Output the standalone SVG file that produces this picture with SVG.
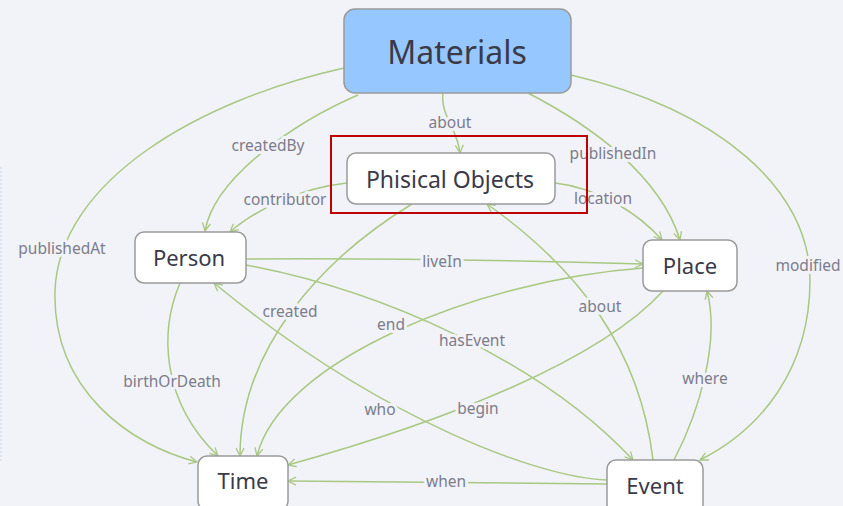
<svg xmlns="http://www.w3.org/2000/svg" width="843" height="506" viewBox="0 0 843 506">
<defs>
<style>
.e{fill:none;stroke:#a8c882;stroke-width:1.5;marker-end:url(#arr)}
.n{fill:#ffffff;stroke:#9a9a9a;stroke-width:1.5}
.nt{font-family:"Noto Sans","Open Sans",sans-serif;font-size:22px;fill:#3a3a48;text-anchor:middle;dominant-baseline:central}
.l{font-family:"Noto Sans","Open Sans",sans-serif;font-size:15.5px;fill:#7c7c8c;text-anchor:middle;dominant-baseline:central;stroke:#f2f3f8;stroke-width:6;paint-order:stroke;stroke-linejoin:round}
</style>
<marker id="arr" viewBox="0 0 10 10" refX="9" refY="5" markerWidth="10" markerHeight="10" markerUnits="userSpaceOnUse" orient="auto">
<path d="M1,1 L9,5 L1,9" fill="none" stroke="#a8c882" stroke-width="1.3"/>
</marker>
</defs>
<rect width="843" height="506" fill="#f2f3f8"/>
<line x1="1" y1="167" x2="1" y2="463" stroke="#cdd6e8" stroke-width="1" stroke-dasharray="2,2"/>
<g id="connectors">
<path class="e" d="M443,93 C440,115 458,130 460,153"/>
<path class="e" d="M358,95 C300,120 215,175 205,231"/>
<path class="e" d="M344,68 C200,100 60,180 55,290 C52,390 130,445 197,462"/>
<path class="e" d="M347,183 C300,188 255,210 230,232"/>
<path class="e" d="M555,183 C600,188 640,215 662,240"/>
<path class="e" d="M528,93 C590,125 660,175 680,240"/>
<path class="e" d="M571,75 C720,110 810,190 810,280 C810,370 760,430 700,460"/>
<path class="e" d="M246,259 Q445,258 643,264"/>
<path class="e" d="M246,265 C380,290 540,360 633,460"/>
<path class="e" d="M607,480 C540,478 380,420 214,283"/>
<path class="e" d="M180,283 C160,330 160,400 218,456"/>
<path class="e" d="M412,204 C320,260 240,350 240,456"/>
<path class="e" d="M643,268 C480,280 280,360 257,456"/>
<path class="e" d="M653,460 C640,350 580,270 487,204"/>
<path class="e" d="M674,460 C700,410 720,340 707,291"/>
<path class="e" d="M607,484 L288,481"/>
<path class="e" d="M663,291 C600,360 450,420 288,465"/>
<text class="l" x="450" y="122">about</text>
<text class="l" x="268" y="145">createdBy</text>
<text class="l" x="62" y="248">publishedAt</text>
<text class="l" x="285" y="199">contributor</text>
<text class="l" x="603" y="198">location</text>
<text class="l" x="613" y="153">publishedIn</text>
<text class="l" x="808" y="265">modified</text>
<text class="l" x="442" y="261">liveIn</text>
<text class="l" x="472" y="340">hasEvent</text>
<text class="l" x="380" y="409">who</text>
<text class="l" x="172" y="381">birthOrDeath</text>
<text class="l" x="290" y="311">created</text>
<text class="l" x="391" y="324">end</text>
<text class="l" x="600" y="306">about</text>
<text class="l" x="705" y="378">where</text>
<text class="l" x="446" y="481">when</text>
<text class="l" x="478" y="408">begin</text>
</g>
<g id="materials">
<rect x="344" y="9" width="227" height="84" rx="11" fill="#96c8ff" stroke="#9a9a9a" stroke-width="1.5"/>
<text class="nt" x="457" y="51" style="font-size:32px">Materials</text>
</g>
<g id="phisical-objects">
<rect class="n" x="347" y="153" width="208" height="51" rx="9"/>
<text class="nt" x="450" y="179" style="font-size:23px">Phisical Objects</text>
</g>
<rect x="331" y="136" width="256" height="77" fill="none" stroke="#c00000" stroke-width="2"/>
<g id="person">
<rect class="n" x="135" y="232" width="111" height="51" rx="9"/>
<text class="nt" x="189" y="257">Person</text>
</g>
<g id="place">
<rect class="n" x="643" y="240" width="94" height="51" rx="9"/>
<text class="nt" x="690" y="265">Place</text>
</g>
<g id="time">
<rect class="n" x="198" y="456" width="90" height="54" rx="9"/>
<text class="nt" x="243" y="480">Time</text>
</g>
<g id="event">
<rect class="n" x="607" y="460" width="96" height="54" rx="9"/>
<text class="nt" x="655" y="485">Event</text>
</g>
</svg>
